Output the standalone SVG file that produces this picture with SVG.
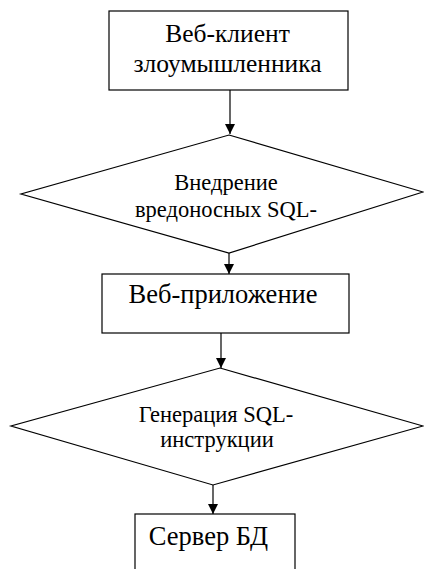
<svg xmlns="http://www.w3.org/2000/svg" width="424" height="569" viewBox="0 0 424 569">
<style>
.shape{fill:#fff;stroke:#000;stroke-width:1.2}
.t{font-family:'Liberation Serif',serif;fill:#000;text-anchor:middle}
.big{font-size:26.5px}
.mid{font-size:25.5px}
.small{font-size:22.5px}
.conn line{stroke:#000;stroke-width:1.2}
</style>
<defs>
<marker id="ah" viewBox="0 0 10 10" refX="10" refY="5" markerWidth="10" markerHeight="10" markerUnits="userSpaceOnUse" orient="auto">
<path d="M0,0 L10,5 L0,10 Z" fill="#000"/>
</marker>
</defs>
<rect width="424" height="569" fill="#fff"/>
<g id="client">
<rect class="shape" x="109" y="11" width="239" height="79"/>
<text class="t mid" x="227.5" y="42">Веб-клиент</text>
<text class="t mid" x="227.5" y="72">злоумышленника</text>
</g>
<g id="inject">
<polygon class="shape" points="229,135 423,192 229,253 21,194"/>
<text class="t small" x="226" y="190">Внедрение</text>
<text class="t small" x="226" y="217">вредоносных SQL-</text>
</g>
<g id="webapp">
<rect class="shape" x="102" y="274" width="247" height="59"/>
<text class="t big" x="223" y="303">Веб-приложение</text>
</g>
<g id="gen">
<polygon class="shape" points="220,368 423,426 213,485 11,426"/>
<text class="t small" x="216" y="422">Генерация SQL-</text>
<text class="t small" x="217" y="447">инструкции</text>
</g>
<g id="db">
<rect class="shape" x="135" y="514" width="160" height="70"/>
<text class="t big" x="208.5" y="545">Сервер БД</text>
</g>
<g class="conn">
<line x1="230" y1="90" x2="230" y2="134" marker-end="url(#ah)"/>
<line x1="229" y1="253" x2="229" y2="274" marker-end="url(#ah)"/>
<line x1="221" y1="333" x2="221" y2="368" marker-end="url(#ah)"/>
<line x1="213" y1="485" x2="213" y2="514" marker-end="url(#ah)"/>
</g>
</svg>
